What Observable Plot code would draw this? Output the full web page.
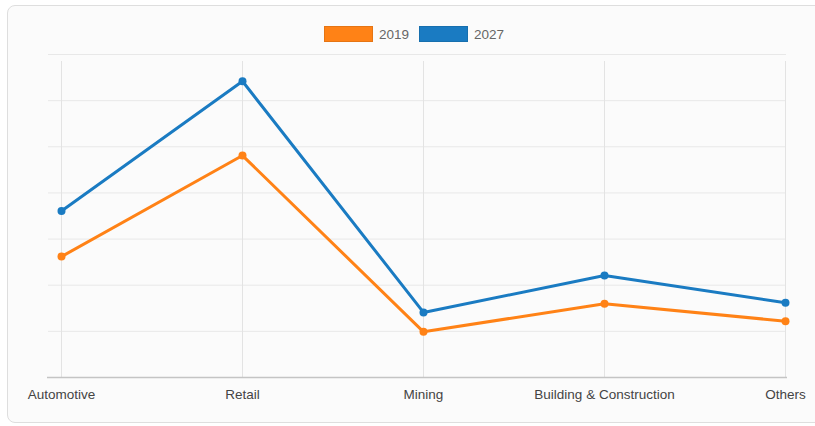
<!DOCTYPE html>
<html>
<head>
<meta charset="utf-8">
<script src="https://cdn.jsdelivr.net/npm/d3@7"></script>
<script src="https://cdn.jsdelivr.net/npm/@observablehq/plot@0.6"></script>
<style>
  html, body { margin: 0; padding: 0; background: #ffffff; width: 815px; height: 426px; overflow: hidden; font-family: "Liberation Sans", Arial, sans-serif; }
  #card { position: absolute; left: 7px; top: 5px; width: 830px; height: 418px; border: 1px solid #dedede; border-radius: 8px; background: #fbfbfb; box-sizing: border-box; }
  #chart { position: absolute; left: 0; top: 0; }
  #legend { position: absolute; left: 324px; top: 26px; display: flex; align-items: center; font-size: 13.5px; color: #666; }
  .sw { width: 49px; height: 16px; box-sizing: border-box; display: inline-block; margin-right: 6px; }
  .item { display: flex; align-items: center; margin-right: 10px; }
</style>
</head>
<body>
<div id="card"></div>
<div id="chart"></div>
<div id="legend"></div>
<script>
const categories = ["Automotive", "Retail", "Mining", "Building & Construction", "Others"];
const series = ["2019", "2027"];
const values2019 = [2.62, 4.81, 0.99, 1.60, 1.22];
const values2027 = [3.61, 6.42, 1.41, 2.21, 1.62];
const colors = ["#ff8216", "#1a7bc2"];
const gridValues = [1, 2, 3, 4, 5, 6, 7];

const data = [];
categories.forEach((c, i) => {
  data.push({category: c, series: "2019", value: values2019[i]});
  data.push({category: c, series: "2027", value: values2027[i]});
});

const plot = Plot.plot({
  width: 815,
  height: 426,
  marginLeft: 60,
  marginRight: 29,
  marginTop: 54,
  marginBottom: 49,
  style: { background: "transparent", fontFamily: "Liberation Sans, Arial, sans-serif", fontSize: "13.5px", color: "#444", overflow: "visible" },
  x: { type: "point", domain: categories, padding: 0, axis: null, label: null },
  y: { domain: [0, 7], axis: null },
  color: { domain: series, range: colors },
  marks: [
    Plot.ruleY(gridValues, { stroke: "#e8e8e8", strokeWidth: 1, insetLeft: -12 }),
    Plot.ruleX(categories, { x: d => d, stroke: "#e3e3e3", strokeWidth: 1, y1: 0, y2: 7, insetBottom: -7 }),
    Plot.ruleY([0], { stroke: "#c4c4c4", strokeWidth: 1.3, insetLeft: -13, insetRight: -1 }),
    Plot.axisX({ tickSize: 0, tickPadding: 12, fontSize: 13.5, fill: "#444", label: null }),
    Plot.line(data, { x: "category", y: "value", stroke: "series", strokeWidth: 3, z: "series" }),
    Plot.dot(data, { x: "category", y: "value", fill: "series", r: 4, stroke: "none" })
  ]
});
document.getElementById("chart").appendChild(plot);

const legend = document.getElementById("legend");
series.forEach((s, i) => {
  const item = document.createElement("div");
  item.className = "item";
  const sw = document.createElement("span");
  sw.className = "sw";
  sw.style.background = colors[i];
  sw.style.border = "1px solid " + d3.color(colors[i]).darker(0.3);
  const t = document.createElement("span");
  t.textContent = s;
  item.appendChild(sw);
  item.appendChild(t);
  legend.appendChild(item);
});
</script>
</body>
</html>
